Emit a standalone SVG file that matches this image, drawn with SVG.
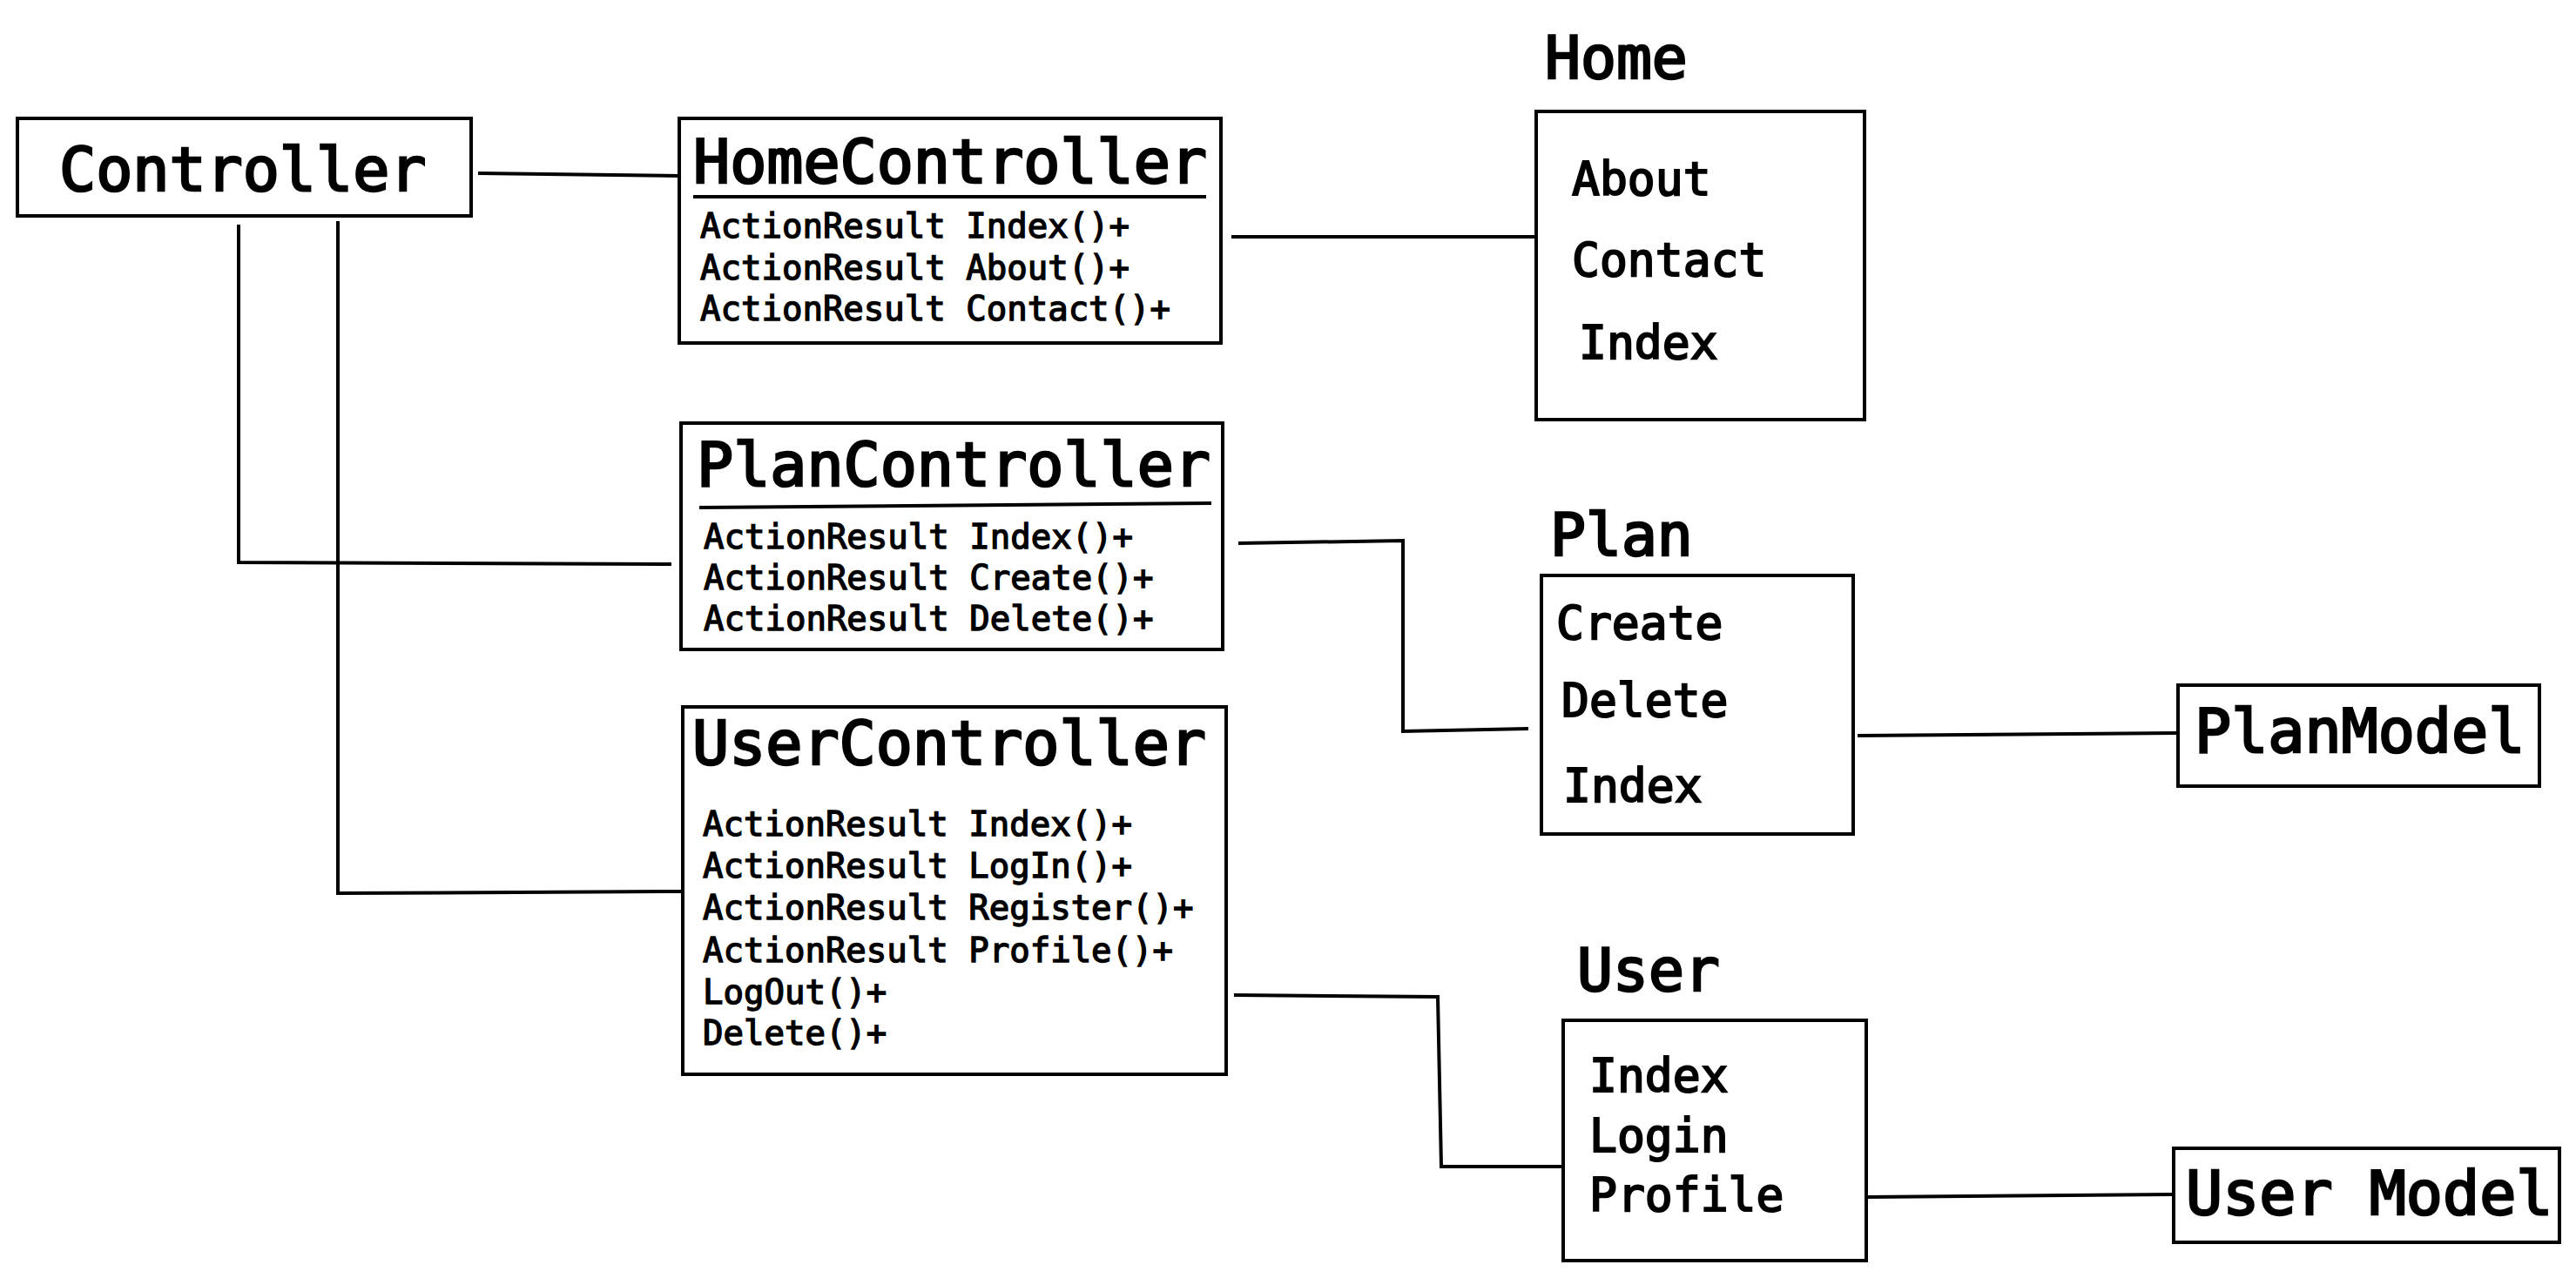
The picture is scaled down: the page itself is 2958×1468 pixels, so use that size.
<svg xmlns="http://www.w3.org/2000/svg" width="2958" height="1468" viewBox="0 0 2958 1468">
<style>
.box{fill:#fff;stroke:#000;stroke-width:4}
.ln{fill:none;stroke:#000;stroke-width:4;stroke-linejoin:miter}
text{font-family:"DejaVu Sans Mono","Liberation Mono",monospace;font-weight:normal;fill:#000;stroke:#000;stroke-width:2}
.t{font-size:70px;stroke-width:2.6}
.m{font-size:39px;stroke-width:1.4}
.i{font-size:53px}
.h{font-size:68px;stroke-width:2.6}
</style>
<rect width="2958" height="1468" fill="#fff"/>
<g id="connectors">
<path class="ln" d="M549,199 L780,202"/>
<path class="ln" d="M274,258 L274,646 L771,648"/>
<path class="ln" d="M388,254 L388,1026 L784,1024"/>
<path class="ln" d="M1414,272 L1762,272"/>
<path class="ln" d="M1422,624 L1611,621 L1611,840 L1755,837"/>
<path class="ln" d="M2133,845 L2501,842"/>
<path class="ln" d="M1417,1143 L1651,1145 L1655,1340 L1798,1340"/>
<path class="ln" d="M2145,1375 L2494,1372"/>
</g>
<g id="controller">
<rect class="box" x="20" y="136" width="521" height="112"/>
<text class="t" x="68" y="219">Controller</text>
</g>
<g id="homecontroller">
<rect class="box" x="780" y="136" width="622" height="258"/>
<text class="t" x="796" y="210">HomeController</text>
<path class="ln" d="M796,226 L1385,226"/>
<text class="m" x="804" y="273">ActionResult Index()+</text>
<text class="m" x="804" y="321">ActionResult About()+</text>
<text class="m" x="804" y="368">ActionResult Contact()+</text>
</g>
<g id="plancontroller">
<rect class="box" x="782" y="486" width="622" height="260"/>
<text class="t" x="800" y="558">PlanController</text>
<path class="ln" d="M803,583 L1391,578"/>
<text class="m" x="808" y="630">ActionResult Index()+</text>
<text class="m" x="808" y="677">ActionResult Create()+</text>
<text class="m" x="808" y="724">ActionResult Delete()+</text>
</g>
<g id="usercontroller">
<rect class="box" x="784" y="812" width="624" height="422"/>
<text class="t" x="795" y="878">UserController</text>
<text class="m" x="807" y="960">ActionResult Index()+</text>
<text class="m" x="807" y="1008">ActionResult LogIn()+</text>
<text class="m" x="807" y="1056">ActionResult Register()+</text>
<text class="m" x="807" y="1105">ActionResult Profile()+</text>
<text class="m" x="807" y="1153">LogOut()+</text>
<text class="m" x="807" y="1200">Delete()+</text>
</g>
<g id="home">
<text class="h" x="1774" y="90">Home</text>
<rect class="box" x="1764" y="128" width="377" height="354"/>
<text class="i" x="1805" y="224">About</text>
<text class="i" x="1805" y="317">Contact</text>
<text class="i" x="1813" y="412">Index</text>
</g>
<g id="plan">
<text class="h" x="1780" y="638">Plan</text>
<rect class="box" x="1770" y="661" width="358" height="297"/>
<text class="i" x="1787" y="734">Create</text>
<text class="i" x="1793" y="823">Delete</text>
<text class="i" x="1795" y="921">Index</text>
</g>
<g id="planmodel">
<rect class="box" x="2501" y="787" width="415" height="116"/>
<text class="t" x="2520" y="864">PlanModel</text>
</g>
<g id="user">
<text class="h" x="1811" y="1138">User</text>
<rect class="box" x="1795" y="1172" width="348" height="276"/>
<text class="i" x="1825" y="1254">Index</text>
<text class="i" x="1825" y="1323">Login</text>
<text class="i" x="1825" y="1391">Profile</text>
</g>
<g id="usermodel">
<rect class="box" x="2496" y="1319" width="443" height="108"/>
<text class="t" x="2510" y="1395">User Model</text>
</g>
</svg>
